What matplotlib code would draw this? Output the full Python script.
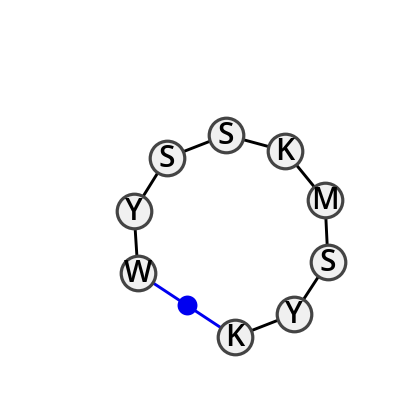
import matplotlib
matplotlib.use("Agg")
import matplotlib.pyplot as plt

# Residues going round the ring, starting at W
residues = ["W", "Y", "S", "S", "K", "M", "S", "Y", "K"]
res_x = [138, 134, 167, 226, 285, 325, 328, 294, 235]
res_y = [274, 212, 159, 136, 152, 201, 263, 315, 338]

# Blue dot on the W-K link
dot_x = [187]
dot_y = [306]

fig = plt.figure(figsize=(4, 4.1), dpi=100)
ax = fig.add_axes([0, 0, 1, 1])
ax.set_xlim(0, 400)
ax.set_ylim(410, 0)
ax.axis("off")

# Black links between neighbours
ax.plot(res_x, res_y, color="black", lw=2.1, zorder=1, solid_capstyle="butt")

# Blue link closing the ring
ax.plot([res_x[0], res_x[-1]], [res_y[0], res_y[-1]], color="#0000f0", lw=2.1, zorder=1)
ax.scatter(dot_x, dot_y, s=205, color="#0000f0", linewidths=0, zorder=2)

# Residue circles
ax.scatter(res_x, res_y, s=620, facecolor="#f0f0f0", edgecolor="#444444", linewidths=2.3, zorder=3)
for name, x, y in zip(residues, res_x, res_y):
    ax.text(x, y + 0.5, name, fontsize=21.5, family="Open Sans", weight="semibold", ha="center", va="center", color="black", zorder=4)

fig.savefig("out.png", dpi=100)
